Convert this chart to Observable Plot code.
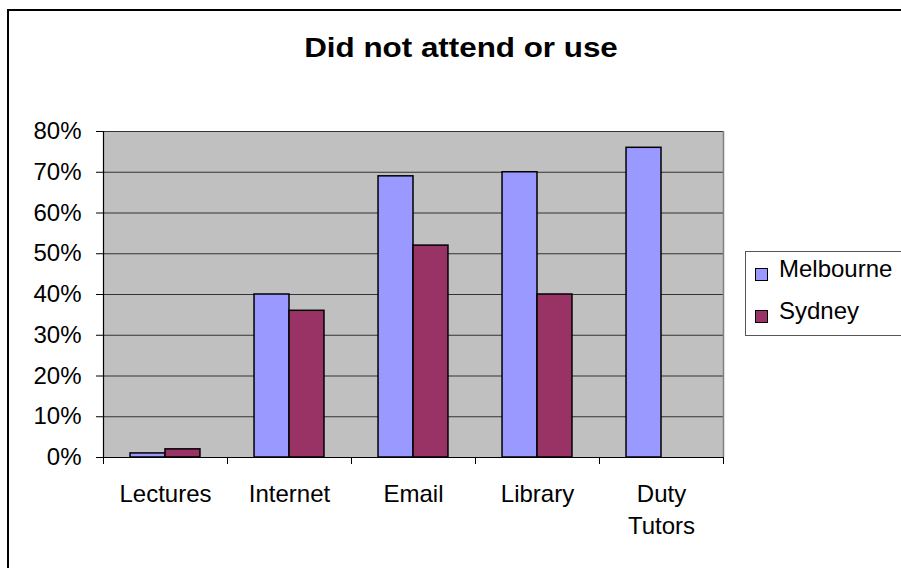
<!DOCTYPE html>
<html>
<head>
<meta charset="utf-8">
<script src="https://cdn.jsdelivr.net/npm/d3@7"></script>
<script src="https://cdn.jsdelivr.net/npm/@observablehq/plot@0.6"></script>
<style>
  html, body { margin: 0; padding: 0; background: #fff; }
  #chart { position: relative; width: 901px; height: 568px; overflow: hidden; font-family: "Liberation Sans", Arial, sans-serif; }
  #chart svg { position: absolute; left: 0; top: 0; }
  #border { position: absolute; left: 7px; top: 9px; width: 1000px; height: 1000px; border-left: 2px solid #000; border-top: 2px solid #000; }
  #title { position: absolute; left: 461px; top: 32px; font-size: 28px; font-weight: bold; white-space: nowrap; transform: translateX(-50%) scaleX(1.12); }
  #legend { position: absolute; left: 745px; top: 251px; width: 200px; height: 83px; border: 1px solid #555; background: #fff; }
  .item { position: absolute; left: 0; font-size: 24px; line-height: 24px; white-space: nowrap; }
  .item span.sw { position: absolute; left: 9px; width: 11px; height: 11px; border: 1.5px solid #000; }
  .item span.lb { position: absolute; left: 33px; top: 0; }
</style>
</head>
<body>
<div id="chart">
  <div id="border"></div>
</div>
<script>
// Share of students who did not attend or use each service
const categories = ["Lectures", "Internet", "Email", "Library", "Duty\nTutors"];
const series = ["Melbourne", "Sydney"];
const melbourne = [0.01, 0.40, 0.69, 0.70, 0.76];
const sydney = [0.02, 0.36, 0.52, 0.40, null];
const colors = ["#9999FF", "#993366"];
const yTicks = [0, 0.1, 0.2, 0.3, 0.4, 0.5, 0.6, 0.7, 0.8];

// Each category occupies one unit on x; the two bars sit side by side at its centre
const barWidth = 0.282;
const rows = [];
categories.forEach((c, i) => {
  [melbourne, sydney].forEach((vals, s) => {
    if (vals[i] == null) return;
    rows.push({
      category: c,
      series: series[s],
      value: vals[i],
      x1: i + 0.5 - barWidth + s * barWidth,
      x2: i + 0.5 + s * barWidth
    });
  });
});
const boundaries = d3.range(categories.length + 1);

const plot = Plot.plot({
  width: 901,
  height: 568,
  marginLeft: 103,
  marginRight: 178,
  marginTop: 131,
  marginBottom: 111,
  style: { fontFamily: "Liberation Sans, Arial, sans-serif", fontSize: "24px", color: "#000", background: "transparent" },
  x: { domain: [0, categories.length], axis: null },
  y: {
    domain: [0, 0.8],
    ticks: yTicks,
    tickFormat: d3.format(".0%"),
    tickSize: 7,
    tickPadding: 15,
    label: null
  },
  color: { domain: series, range: colors },
  marks: [
    Plot.frame({ fill: "#C0C0C0", stroke: null }),
    Plot.ruleY(yTicks, { stroke: "#333", strokeWidth: 1 }),
    Plot.ruleX([categories.length], { stroke: "#808080", strokeWidth: 1.5 }),
    Plot.rectY(rows, { x1: "x1", x2: "x2", y1: 0, y2: "value", fill: "series", stroke: "#000", strokeWidth: 1.5 }),
    Plot.ruleX([0], { stroke: "#000", strokeWidth: 1.2 }),
    Plot.ruleY([0], { stroke: "#000", strokeWidth: 1.2 }),
    // category boundary tick marks below the axis
    Plot.ruleX(boundaries, { x: d => d, y1: 0, y2: 0, insetBottom: -7, stroke: "#000", strokeWidth: 1 }),
    Plot.text(categories, { x: (d, i) => i + 0.5, y: 0, text: d => d, dy: 21, lineAnchor: "top", lineHeight: 1.35 })
  ]
});

document.getElementById("chart").appendChild(plot);

const title = document.createElement("div");
title.id = "title";
title.textContent = "Did not attend or use";
document.getElementById("chart").appendChild(title);

const legend = document.createElement("div");
legend.id = "legend";
series.forEach((s, i) => {
  const item = document.createElement("div");
  item.className = "item";
  item.style.top = (5 + i * 42) + "px";
  const sw = document.createElement("span");
  sw.className = "sw";
  sw.style.background = colors[i];
  sw.style.top = "11px";
  const lb = document.createElement("span");
  lb.className = "lb";
  lb.textContent = s;
  item.appendChild(sw);
  item.appendChild(lb);
  legend.appendChild(item);
});
document.getElementById("chart").appendChild(legend);
</script>
</body>
</html>
